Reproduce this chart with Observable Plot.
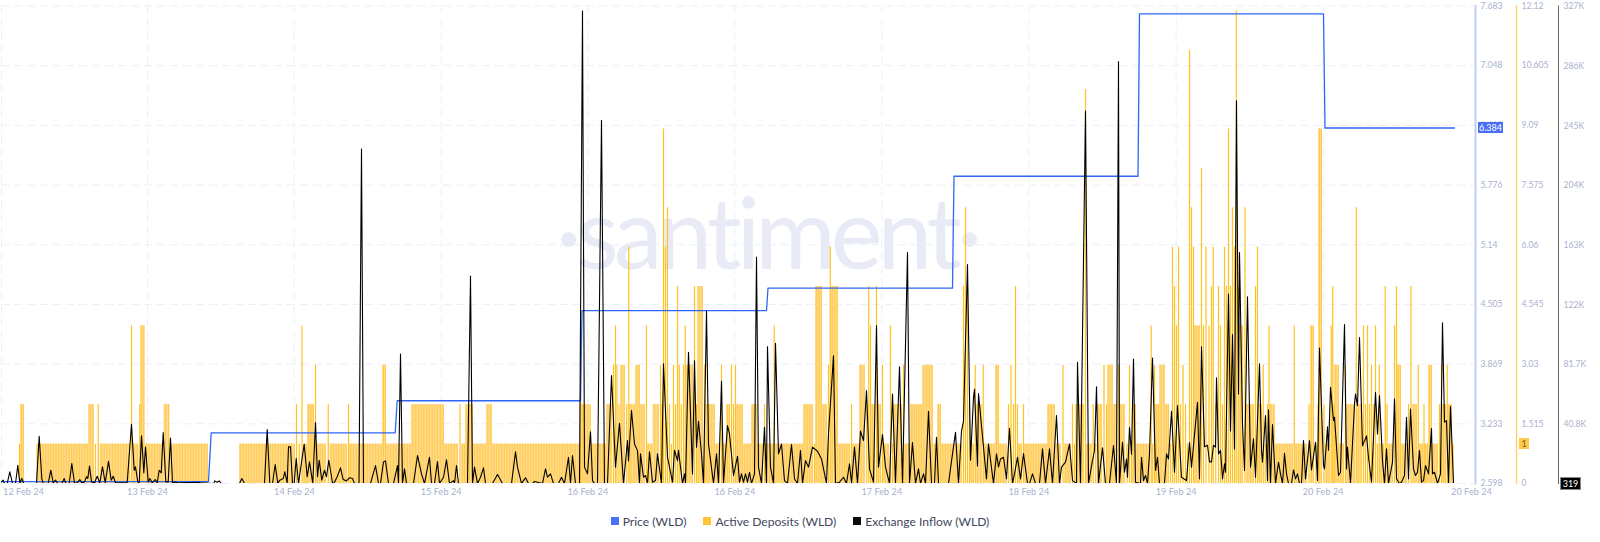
<!DOCTYPE html>
<html>
<head>
<meta charset="utf-8">
<script src="https://cdn.jsdelivr.net/npm/d3@7"></script>
<script src="https://cdn.jsdelivr.net/npm/@observablehq/plot@0.6"></script>
<style>
html,body{margin:0;padding:0;background:#fff;overflow:hidden}
body{width:1600px;height:542px;font-family:Lato,sans-serif}
#stage{position:relative;width:1600px;height:500px}
#stage svg{position:absolute;left:0;top:0}
.tag{position:absolute;font-size:9px;line-height:11px;height:11px;text-align:center}
.wm{letter-spacing:-5px}
#legend{display:flex;justify-content:center;gap:17px;height:42px;align-items:center;font-size:12.1px;color:#3f465c;margin-top:0}
#legend span.i{display:flex;align-items:center;gap:4px}
#legend i{display:inline-block;width:8px;height:8px}
</style>
</head>
<body>
<div id="stage"></div>
<div id="legend"></div>
<script>
// elapsed-time axis unit, tick labels
const timeDomain = [1, 1474];
const gridTimes = [1, 147, 293.7, 440.7, 587.3, 734.3, 881.3, 1028.3, 1175.7, 1322.7];
const dateLabelTimes = [23, 147, 294, 440.7, 587.3, 734.3, 881.3, 1028.3, 1175.7, 1322.7, 1471];
const dateLabels = ["12 Feb 24","13 Feb 24","14 Feb 24","15 Feb 24","16 Feb 24","16 Feb 24","17 Feb 24","18 Feb 24","19 Feb 24","20 Feb 24","20 Feb 24"];

// y axes
const priceTicks = [2.598,3.233,3.869,4.505,5.14,5.776,6.412,7.048,7.683];
const depositTicks = [0,1.515,3.03,4.545,6.06,7.575,9.09,10.605,12.12];
const inflowTicks = [0,40800,81700,122000,163000,204000,245000,286000,327000];
const inflowTickLabels = ["","40.8K","81.7K","122K","163K","204K","245K","286K","327K"];

// price: step changes [time], [value]
const priceTimes = [1,208,210.7,394.7,396.7,580,581.5,766,767.5,952,953.5,1137.5,1139,1323,1324.5,1454];
const priceValues = [2.619,2.619,3.138,3.138,3.479,3.479,4.44,4.44,4.678,4.678,5.87,5.87,7.6,7.6,6.384,6.384];

// active deposits: runs of [end time, level]
const depositRuns = [[18,0],[20,1],[24,2],[36,0],[88,1],[94,2],[96,1],[99.5,2],[130,1],[132,4],[138.5,1],[140,2],[144.5,4],[163.5,1],[169.5,2],[208,1],[239,0],[295,1],[297,2],[300.5,1],[302.5,4],[307,1],[314,2],[316,3],[326,1],[329.5,2],[347,1],[349,2],[382,1],[386,3],[411,1],[444,2],[458,1],[461,2],[465,1],[473,2],[486,1],[492,2],[579,1],[581,4],[591,2],[606,1],[612,2],[614,3],[616,4],[617,3],[620,2],[625,3],[627.5,2],[629,6],[635,2],[640,3],[645,2],[647,4],[652.5,1],[659,2],[661,3],[662,2],[664,9],[666,6],[668,7],[670,2],[672,1],[674,3],[676,2],[678,5],[679.5,3],[682,2],[684,3],[685.5,4],[693,3],[695,5],[697,2],[703,5],[705,3],[715,2],[720,1],[722,3],[726,1],[730,2],[732,3],[734,2],[736,3],[743,2],[751,1],[757,2],[763,1],[765,2],[773,1],[774.5,4],[803,1],[813,2],[815,1],[822,5],[827,2],[829,3],[830.5,6],[838,5],[850,1],[852,2],[859,1],[865,3],[867.5,2],[869,5],[871,4],[875,2],[877,5],[881,2],[883,3],[889,1],[891,4],[893,1],[902,2],[904,3],[910,1],[922,2],[933,3],[937,1],[941,2],[962,1],[964,5],[966,7],[968,5],[970,2],[974,1],[975.5,3],[982,2],[983.5,3],[995,1],[999,3],[1007,1],[1009,2],[1012,3],[1014,2],[1016,5],[1018,2],[1022,1],[1024,2],[1047,1],[1055,2],[1061,1],[1064,3],[1071,1],[1073,2],[1075,1],[1084,2],[1086,10],[1092,1],[1093.5,2],[1097,1],[1102,2],[1105,3],[1107,2],[1113,3],[1117,2],[1119,3],[1125,2],[1128,1],[1130,3],[1132,1],[1136,2],[1150,1],[1151.5,4],[1153,1],[1155,3],[1159,2],[1165,3],[1169,2],[1171,1],[1173,6],[1175,5],[1177,4],[1179,6],[1181,2],[1184,3],[1186,2],[1188,1],[1190,11],[1192,7],[1194,6],[1200,4],[1202,8],[1204,4],[1207,6],[1210,4],[1212,5],[1213.5,6],[1217,2],[1219,5],[1221,4],[1223,2],[1225,6],[1227,5],[1229,9],[1231,5],[1233,7],[1235,6],[1236.5,12],[1239,5],[1243,4],[1246,7],[1254,2],[1256,5],[1258,6],[1262,2],[1263.5,3],[1266,1],[1268,2],[1269,4],[1275,2],[1293,1],[1294.5,4],[1307,1],[1310,2],[1314,4],[1317,1],[1318,2],[1322,9],[1325,2],[1330,1],[1331.5,4],[1333,5],[1334,2],[1339,3],[1344,1],[1346,3],[1355,2],[1356.5,7],[1362,2],[1364,4],[1366,2],[1368,4],[1370,2],[1372,3],[1374,2],[1376,4],[1378,1],[1379.5,3],[1384,1],[1385.5,5],[1387.5,2],[1393,1],[1395,4],[1397,5],[1401,3],[1407,1],[1409,2],[1412,5],[1417,2],[1418.5,3],[1423,1],[1424,2],[1428,1],[1432,3],[1438,1],[1440,2],[1442,3],[1446,2],[1447.5,3],[1452,2],[1453,1]];

// exchange inflow: [time, thousands of tokens]
const inflowPoints = [[1,1.1],[2.7,2.3],[4,0],[6.7,0],[9.3,8],[12,0],[15,0],[17.3,12.5],[19.3,0.5],[21.3,3.4],[23.3,0],[36,0],[38.7,32.4],[41.3,3.4],[42.7,0],[47.7,0],[50.3,9.1],[52.7,0.5],[55,2.3],[57.3,0],[61.3,0],[63.7,3.4],[65.3,0],[68.7,0],[71.3,13.7],[74,0],[76.7,0.5],[79.3,2.7],[81.3,0.5],[84,1.1],[86,4.6],[87.3,3.4],[89,12],[91,1.1],[94,0.5],[96.7,5],[99.3,0.5],[102,11.4],[104.7,0.5],[108,15.2],[110.7,2.3],[112.7,5],[115,0.5],[126.7,0.5],[131,40.6],[133.7,9.1],[135,11.4],[137.3,1.1],[138.7,0.5],[141,32.7],[143.3,7.3],[145,25],[147.7,1.1],[149.3,3.4],[151.7,0.5],[154.7,2.7],[156.7,0.5],[158.7,9.1],[160.7,7.3],[162.7,34.9],[165.3,1.1],[167.7,1.1],[170,31.2],[172,0.5],[175,1.1],[176.7,0.5],[198,0.9],[200,0.5],[213.3,0],[214.3,1.8],[216.7,0.9],[218.7,1.8],[220.7,0],[239,0],[241.3,3.4],[244,0],[264,0],[266.7,36.9],[269.3,0],[272,0],[274.7,13],[277.3,0],[279.3,2.3],[282.7,3.4],[284.3,8],[286.7,0.5],[288,25.1],[290,25.1],[292,0],[293.7,0],[295.7,17.1],[298,0],[301.3,15.9],[303.7,26.9],[306.7,4.6],[309,14.8],[312.3,0],[315,41.7],[317,4.6],[318.7,15.9],[321.3,2.3],[324,9.1],[326,4.6],[328.3,15.9],[332,0.5],[333.3,0],[336.7,4.6],[340,10.7],[342.7,2.7],[346,1.8],[348.7,3.9],[352,3.4],[354,0],[358.5,0],[361,229],[363,0],
[370,0],[375,12.3],[378,0],[380,0],[383,14.8],[385,15.5],[388,0],[393,0],[397,12.3],[398,0],[400,88.7],[402,0],[404,10],[406,0],[413,0],[417,19.2],[421,6.6],[424,0],[429,18],[431,0],[434,0],[437,15],[439,0],[443,4.3],[446,16.2],[449,0],[453,2],[454,0],[456,12.3],[458,0],[467,0],[470,142],[472,0],[474,11.2],[477,0],[480,4.3],[483,10.7],[485,0],[492,0],[497,6.2],[502,0],[507,0],[511,0],[515,21.7],[517,11.2],[521,0],[523,2],[525,3.9],[528,0],[532,0],[534,1.4],[537,0.9],[542,0],[545,10],[547,4.3],[550,6.6],[553,0],[558,0],[561,4.3],[564,0],[568,18],[570,0],[572,19.2],[575,0],[579,0],[582,323.5],[584,11.2],[587,6.6],[590,35.4],[592,2],[594,0],[597,0],[601,248.7],[604,0],[607,0],[611,73.9],[615,11.2],[619,41.3],[623,0],[627,29.4],[628,15.5],[631,50],[634,27],[637,22.5],[639,0],
[640,20.3],[643,4.3],[645,5.5],[647,0],[649,21.7],[652,0.9],[655,2],[657,20.3],[661,0],[663,81.9],[667,18],[669,11.2],[672,0.9],[674,22.8],[677,15.7],[678,22.8],[682,0],[684,6.6],[685,0],[688,89.8],[692,6.6],[694,84.1],[696,24.9],[698,42.6],[701,20.3],[703,0],[706,117.9],[708,27],[713,0],[716,20.3],[718,0],[721,70],[723,0],[727,39.7],[729,34],[733,5.5],[737,18.6],[739,0.9],[741,6.6],[743,0.9],[745,6.6],[747,0.9],[749,7.7],[751,0],[754,6.6],[756,155],[758,11.2],[761,0],[764,38.5],[766,0],[767,93.7],[770,11.2],[773,0],[775,96],[778,20.3],[781,27],[784,2],[787,0],[791,26.7],[794,3.2],[797,0],[800,22.6],[802,0],[805,15.7],[808,11.2],[812,24.9],[817,22.1],[821,16.8],[826,0],[828,34],[833,87.5],[835,0],[839,0.9],[843,4.3],[846,0],[849,13.5],[851,0],[854,24.9],[857,0],[860,35.9],[863,29.4],[866,63.6],[869,10],[873,0.9],[876,108],[878,11.2],[882,33.5],[885,11.2],[889,0],[892,61.3],[895,0],[899,80],[902,0],[907,158.2],[909,0],[912,28],[915,0],[918,10],[920,0],[923,6.6],[925,0],[928,49.5],[931,0],[934,0],[936,31.7],[938,0],[948,0],[952,20.3],[955,35],[958,0],[961,35.9],[963,42.8],[967,150],
[970,16],[973,58.8],[974,64.5],[977,12],[978,61.6],[983,24.9],[986,3.2],[988,27],[993,0],[996,20.3],[998,11.2],[1000,16.8],[1003,18],[1006,3.2],[1009,37.8],[1012,0],[1014,6.6],[1017,18],[1020,3.2],[1023,20.5],[1027,0],[1029,0],[1032,6.6],[1035,0],[1039,0],[1042,23.7],[1045,0],[1049,23.7],[1052,0],[1056,46.5],[1059,0],[1061,11.2],[1065,14.6],[1069,27],[1072,2],[1076,0],[1077,83],[1080,0],[1085,255],[1088,0],[1092,15.7],[1094,22.6],[1096,66.3],[1098,0],[1102,24.4],[1105,0],[1109,0],[1113,26],[1116,0],[1118,289],[1119,0],[1122,28.2],[1124,7.7],[1126,16.8],[1127,4.3],[1129,38.3],[1131,20],[1133,85.3],[1135,0.9],[1140,0],[1141,18],[1143,2],[1145,5.5],[1147,0],[1149,20.3],[1152,85.9],[1155,9],[1157,18],[1159,0],[1164,0],[1166,20.3],[1168,16.8],[1171,49.5],[1174,7.7],[1177,53.3],[1181,4.3],[1186,2],[1189,28],[1191,11.2],[1197,55.6],[1199,3.2],[1201,93.7],
[1204,25.1],[1207,26.2],[1209,14.8],[1211,14.8],[1213,26.2],[1215,24.9],[1216,72.3],[1218,20.3],[1220,22.6],[1222,3.2],[1224,13.5],[1225,7.7],[1228,129.7],[1230,36],[1232,102],[1234,23.7],[1236,262],[1238,61.3],[1239,158.2],[1242,40.8],[1244,8.9],[1247,127.9],[1250,11.2],[1253,30.6],[1255,4.3],[1259,81.9],[1261,22.6],[1262,14.6],[1265,46.5],[1267,2],[1268,50.4],[1270,0],[1272,40.4],[1275,0],[1278,14.6],[1280,6.6],[1282,0],[1284,20.7],[1286,6.6],[1288,0],[1291,0],[1293,9.3],[1295,3.2],[1297,6.6],[1299,0],[1301,0],[1303,29.4],[1305,3.2],[1309,29.4],[1311,9.3],[1315,28.2],[1317,2],[1319,92.8],[1323,12.3],[1324,10],[1327,38.8],[1328,22.8],[1330,65.9],[1333,43.1],[1334,45.4],[1338,5.5],[1340,7.7],[1344,108.9],[1346,10],[1347,24.9],[1350,0],[1354,54.5],[1355,61.3],[1357,53.3],[1359,99.9],[1362,25.8],[1366,32.6],[1368,18],[1371,0.9],[1375,62.5],[1377,34],[1379,60],[1382,15.5],[1384,0],[1386,23.7],[1388,0],[1392,14.6],[1394,57.9],[1396,3.2],[1399,0],[1401,0.9],[1404,5.5],[1406,45.4],[1408,3.2],[1410,51],[1413,10],[1415,5.5],[1417,7.7],[1419,22.6],[1421,0.9],[1423,2],[1425,12.3],[1428,6.6],[1431,37.6],[1432,6.6],[1434,7.7],[1437,0],[1440,6.6],[1442,110],[1444,42],[1446,43.1],[1448,0],[1450,52.7],[1453,0.3]];

const legendItems = [["Price (WLD)","#4a72f8"],["Active Deposits (WLD)","#ffc433"],["Exchange Inflow (WLD)","#0b0b0b"]];

// ---- tables for the marks
const priceRows = priceTimes.map((t,i)=>({t,v:priceValues[i]}));
const inflowRows = inflowPoints.map(([t,k])=>({t,v:k*1000}));
const depositSpans = [];
const depositBars = [];
const depositSingles = [];
const barStep = 8/3;
let runStart = 1;
for (const [end, level] of depositRuns) {
  if (level > 0) {
    const n = Math.max(1, Math.round((end-runStart)/barStep));
    if (n > 1) depositSpans.push({a:runStart,b:end,level});
    for (let k=0;k<n;k++) (n>1?depositBars:depositSingles).push({t:runStart+(end-runStart)*(k+0.5)/n,level});
  }
  runStart = end;
}

// ---- shared layout
const W=1600,H=500,TOP=5.5,BOTTOM=483;
const base = (right, yDomain, extra) => ({
  width:W,height:H,marginLeft:0,marginTop:TOP,marginBottom:H-BOTTOM,marginRight:right,
  style:{background:"transparent",overflow:"visible",fontFamily:"Lato,sans-serif",fontSize:"8.5px"},
  x:{type:"linear",domain:timeDomain,range:[1,1474],axis:null},
  y:{type:"linear",domain:yDomain,range:[BOTTOM,TOP]},
  ...extra
});
const axisColor="#a9b1cd", gridColor="#eceff9";
const axisOf=(ticks,fmt,color)=>[
  Plot.frame({anchor:"right",...color}),
  Plot.axisY({anchor:"right",ticks,tickFormat:fmt,tickSize:0,tickPadding:5,fill:axisColor,fontSize:8.6,label:null})
];

// deposits, grid, watermark, dates
const chartDeposits = Plot.plot(base(84,[0,12.12],{marks:[
  Plot.ruleY(depositTicks,{x1:()=>1,x2:()=>1474,stroke:gridColor,strokeDasharray:"8 5",strokeWidth:1}),
  Plot.ruleX(gridTimes,{stroke:gridColor,strokeDasharray:"8 5",strokeWidth:1}),
  Plot.text(["·santiment·"],{x:()=>766,y:()=>6.24,fontSize:98,fontWeight:400,fontFamily:"Lato",fill:"#e8ebf5",textAnchor:"middle",className:"wm"}),
  Plot.rect(depositSpans,{x1:"a",x2:"b",y1:()=>0,y2:"level",fill:"#ffd98c"}),
  Plot.ruleX(depositBars,{x:"t",y1:()=>0,y2:"level",stroke:"#ffca3f",strokeWidth:0.9}),
  Plot.ruleX(depositSingles,{x:"t",y1:()=>0,y2:"level",stroke:"#ffc21f",strokeWidth:1.2}),
  Plot.axisX({anchor:"bottom",ticks:dateLabelTimes,tickFormat:d=>dateLabels[dateLabelTimes.indexOf(d)],tickSize:0,tickPadding:5,fill:axisColor,fontSize:9.2,label:null}),
  ...axisOf(depositTicks,d=>String(d),{stroke:"#ffd05c",strokeWidth:1.3})
]}));

// price
const chartPrice = Plot.plot(base(125,[2.598,7.683],{marks:[
  Plot.line(priceRows,{x:"t",y:"v",stroke:"#2f66f7",strokeWidth:1.3}),
  ...axisOf(priceTicks,d=>String(d),{stroke:"#c2ccf9",strokeWidth:2})
]}));

// inflow
const chartInflow = Plot.plot(base(42,[0,327000],{marks:[
  Plot.line(inflowRows,{x:"t",y:"v",stroke:"#000",strokeWidth:1.1,clip:true}),
  ...axisOf(inflowTicks,d=>inflowTickLabels[inflowTicks.indexOf(d)],{stroke:"#666",strokeWidth:1})
]}));

const stage=document.getElementById("stage");
stage.append(chartDeposits,chartPrice,chartInflow);

// last-value tags placed through each chart's y scale
const tag=(chart,val,text,left,width,bg,fg,border)=>{
  const el=document.createElement("div");
  el.className="tag";el.textContent=text;
  el.style.cssText=`left:${left}px;width:${width}px;top:${chart.scale("y").apply(val)-5.5}px;background:${bg};color:${fg};${border?`outline:1px solid ${border};`:""}`;
  stage.append(el);
};
tag(chartPrice,priceValues[priceValues.length-1],"6.384",1478,25,"#4a6ff5","#fff");
tag(chartDeposits,1,"1",1519,10,"#ffc94d","#7a5c10");
tag(chartInflow,0,"319",1561,19,"#000","#fff","#888");

const legend=document.getElementById("legend");
for(const [name,color] of legendItems){
  const s=document.createElement("span");s.className="i";
  const i=document.createElement("i");i.style.background=color;
  s.append(i,document.createTextNode(name));legend.append(s);
}
</script>
</body>
</html>
